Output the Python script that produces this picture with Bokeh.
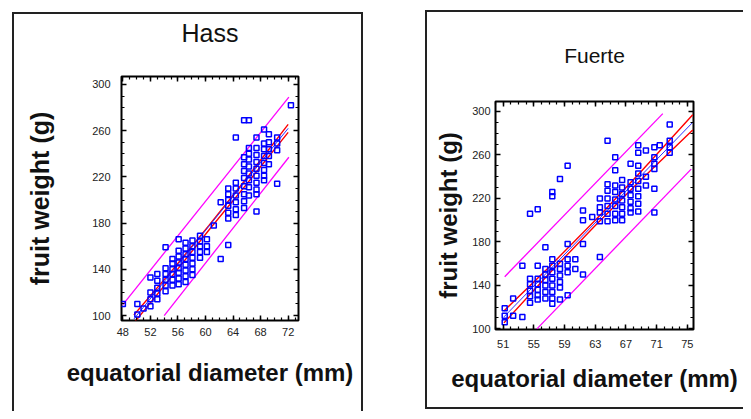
from bokeh.plotting import figure
from bokeh.layouts import row, column
from bokeh.models import (FixedTicker, LinearAxis, Range1d, CustomJSTickFormatter, Spacer)
from bokeh.embed import file_html
from bokeh.resources import INLINE

# ---------------- data ----------------
hass_col_x = [48, 50.1, 51, 52, 53, 54.2, 55.2, 56.1, 57.1, 58.1, 59.2, 60.2,
              61.2, 62.2, 63.3, 64.4, 65.6, 66.3, 67.4, 68.5, 69.2, 70.4, 72.4]
hass_col_y = [
    [110],
    [110, 101],
    [106],
    [133, 120, 114, 108],
    [136, 130, 124, 119, 114],
    [159, 141, 136, 131, 126, 121],
    [149, 145, 140, 136, 131, 126],
    [166, 156, 151, 146, 141, 137, 132, 127],
    [163, 158, 153, 149, 144, 139, 134, 129],
    [165, 160, 155, 150, 145, 140, 135],
    [169, 164, 160, 155, 150],
    [166, 160, 155],
    [178],
    [198, 149],
    [210, 205, 200, 195, 189, 184, 161],
    [254, 215, 210, 204, 198, 192, 187],
    [269, 237, 231, 225, 219, 212, 205, 199, 193],
    [269, 245, 240, 235, 229, 223, 217, 211, 204],
    [254, 245, 239, 233, 227, 221, 215, 209, 205, 190],
    [261, 249, 244, 238, 232, 226, 221, 217],
    [257, 250, 244, 238, 231],
    [254, 249, 243, 214],
    [282],
]
hass_fit_x = [49.6, 72.0]
hass_fit_y = [97, 262]
hass_conf_x = [49.6, 55.0, 60.5, 66.0, 72.0]
hass_conf_hi = [100.5, 138, 178, 219, 265.5]
hass_conf_lo = [93.5, 133, 174, 214, 258.5]
hass_pred_hi_x = [48.0, 72.1]
hass_pred_hi_y = [109.5, 289]
hass_pred_lo_x = [54.0, 72.1]
hass_pred_lo_y = [100, 237]

fuerte_col_x = [51.2, 52.3, 53.5, 54.5, 55.5, 56.5, 57.4, 58.4, 59.4, 60.4, 61.4,
                62.6, 63.6, 64.6, 65.6, 66.5, 67.6, 68.6, 69.6, 70.7, 71.4, 72.7]
fuerte_col_y = [
    [119, 112, 106],
    [128, 112],
    [158, 111],
    [206, 146, 141, 135, 130, 124],
    [210, 158, 146, 141, 136, 131, 127],
    [175, 155, 150, 145, 140, 134, 128],
    [226, 222, 164, 158, 152, 146, 140, 134, 128, 123],
    [238, 160, 155, 149, 143, 138, 127],
    [250, 178, 164, 158, 152, 131],
    [164, 155],
    [209, 200, 178, 150],
    [203],
    [220, 212, 207, 199, 166],
    [273, 233, 227, 220, 213, 206, 199],
    [258, 246, 232, 226, 219, 213, 206, 200],
    [237, 230, 224, 218, 212, 206, 200],
    [252, 235, 229, 223, 217, 211, 207],
    [269, 262, 250, 243, 236, 229, 222, 215, 208],
    [264, 240, 232],
    [267, 258, 252, 247, 229, 207],
    [269],
    [288, 273, 267, 262],
]
fuerte_fit_x = [51.1, 75.7]
fuerte_fit_y = [111, 290]
fuerte_conf_x = [51.1, 57.0, 63.0, 69.0, 75.7]
fuerte_conf_hi = [116.5, 157, 200, 245, 297]
fuerte_conf_lo = [105.5, 151, 195, 237.5, 283]
fuerte_pred_hi_x = [51.2, 71.8]
fuerte_pred_hi_y = [148, 298]
fuerte_pred_lo_x = [55.4, 75.5]
fuerte_pred_lo_y = [100, 247]

hass_xticks = [48, 52, 56, 60, 64, 68, 72]
fuerte_xticks = [51, 55, 59, 63, 67, 71, 75]
yticks = [100, 140, 180, 220, 260, 300]

x_label = "equatorial diameter (mm)"
y_label = "fruit weight (g)"

FONT = "Liberation Sans"
TOP_BORDER = 62
BOTTOM_BORDER = 78


def flatten(cx, cy):
    xs, ys = [], []
    for x, col in zip(cx, cy):
        for y in col:
            xs.append(x)
            ys.append(y)
    return xs, ys


def make_panel(title, title_size, title_standoff, col_x, col_y, fit_x, fit_y,
               conf_x, conf_hi, conf_lo, phx, phy, plx, ply,
               xticks, xminor, xr, yr, w, frame_h, mb_left, mb_right,
               ylab_size, ylab_standoff, ytick_standoff, xlab_standoff, xtick_standoff):
    p = figure(width=w, height=TOP_BORDER + frame_h + BOTTOM_BORDER,
               output_backend="svg", toolbar_location=None,
               x_range=Range1d(*xr), y_range=Range1d(*yr),
               min_border_left=mb_left, min_border_right=mb_right,
               min_border_top=TOP_BORDER, min_border_bottom=BOTTOM_BORDER)
    p.xgrid.visible = False
    p.ygrid.visible = False
    p.outline_line_color = "black"
    p.outline_line_width = 2
    p.background_fill_color = "white"
    p.border_fill_color = "white"

    bottom = p.below[0]
    left = p.left[0]
    bottom.axis_label = x_label
    left.axis_label = y_label

    xt = FixedTicker(ticks=xticks, minor_ticks=xminor)
    yt = FixedTicker(ticks=yticks, minor_ticks=list(range(100, 301, 10)))
    bottom.ticker = xt
    left.ticker = yt

    # top axis carries the panel title as its label
    top = LinearAxis(ticker=xt, formatter=CustomJSTickFormatter(code="return ''"),
                     axis_label=title)
    right = LinearAxis(ticker=yt, formatter=CustomJSTickFormatter(code="return ''"))
    p.add_layout(top, "above")
    p.add_layout(right, "right")

    for ax in [bottom, left, top, right]:
        ax.axis_line_color = None
        ax.major_tick_in = 5
        ax.major_tick_out = 0
        ax.minor_tick_in = 3
        ax.minor_tick_out = 0
        ax.major_tick_line_color = "black"
        ax.major_tick_line_width = 1.5
        ax.minor_tick_line_color = "black"
        ax.minor_tick_line_width = 1.2
        ax.major_label_text_font = FONT
        ax.major_label_text_font_size = "11px"
        ax.major_label_text_color = "#222222"
    for ax in [top, right]:
        ax.major_label_standoff = 0
        ax.axis_label_standoff = 0
        ax.major_label_text_font_size = "1px"

    top.axis_label_text_font = FONT
    top.axis_label_text_font_style = "normal"
    top.axis_label_text_font_size = f"{title_size}px"
    top.axis_label_text_color = "#111111"
    top.axis_label_standoff = title_standoff

    for ax, size, stand, tstand in [(bottom, 24, xlab_standoff, xtick_standoff),
                                    (left, ylab_size, ylab_standoff, ytick_standoff)]:
        ax.axis_label_text_font = FONT
        ax.axis_label_text_font_style = "bold"
        ax.axis_label_text_font_size = f"{size}px"
        ax.axis_label_text_color = "#111111"
        ax.axis_label_standoff = stand
        ax.major_label_standoff = tstand

    xs, ys = flatten(col_x, col_y)
    p.line(phx, phy, line_color="#ff00ff", line_width=1.3)
    p.line(plx, ply, line_color="#ff00ff", line_width=1.3)
    p.line(conf_x, conf_hi, line_color="#ff0000", line_width=1.4)
    p.line(conf_x, conf_lo, line_color="#ff0000", line_width=1.4)
    p.line(fit_x, fit_y, line_color="#3030ff", line_width=1)
    p.scatter(xs, ys, marker="square", size=5, fill_color=None,
              line_color="#0000ff", line_width=1.5)
    return p


pa = make_panel("Hass", 25, 30, hass_col_x, hass_col_y, hass_fit_x, hass_fit_y,
                hass_conf_x, hass_conf_hi, hass_conf_lo,
                hass_pred_hi_x, hass_pred_hi_y, hass_pred_lo_x, hass_pred_lo_y,
                hass_xticks, list(range(48, 74)), (47.8, 73.5), (95.7, 306.9),
                347, 244, 107, 63,
                25, 35, 11, 20, 7)

pb = make_panel("Fuerte", 21, 35, fuerte_col_x, fuerte_col_y,
                fuerte_fit_x, fuerte_fit_y,
                fuerte_conf_x, fuerte_conf_hi, fuerte_conf_lo,
                fuerte_pred_hi_x, fuerte_pred_hi_y, fuerte_pred_lo_x, fuerte_pred_lo_y,
                fuerte_xticks, list(range(50, 76)), (50.0, 75.8), (99.4, 309.2),
                316, 228, 68, 50,
                24, 7, 5, 14, 10)

box_a = column(pa, Spacer(width=347, height=13), margin=(12, 0, 0, 12),
               styles={"border-left": "2px solid #222", "border-top": "2px solid #222",
                       "border-right": "2px solid #222"})
box_b = column(Spacer(width=316, height=27), pb, margin=(10, 0, 0, 62),
               styles={"border-left": "2px solid #222", "border-top": "2px solid #222",
                       "border-bottom": "2px solid #222"})

layout = row(box_a, box_b)
open("out.html", "w").write(file_html(layout, INLINE))
